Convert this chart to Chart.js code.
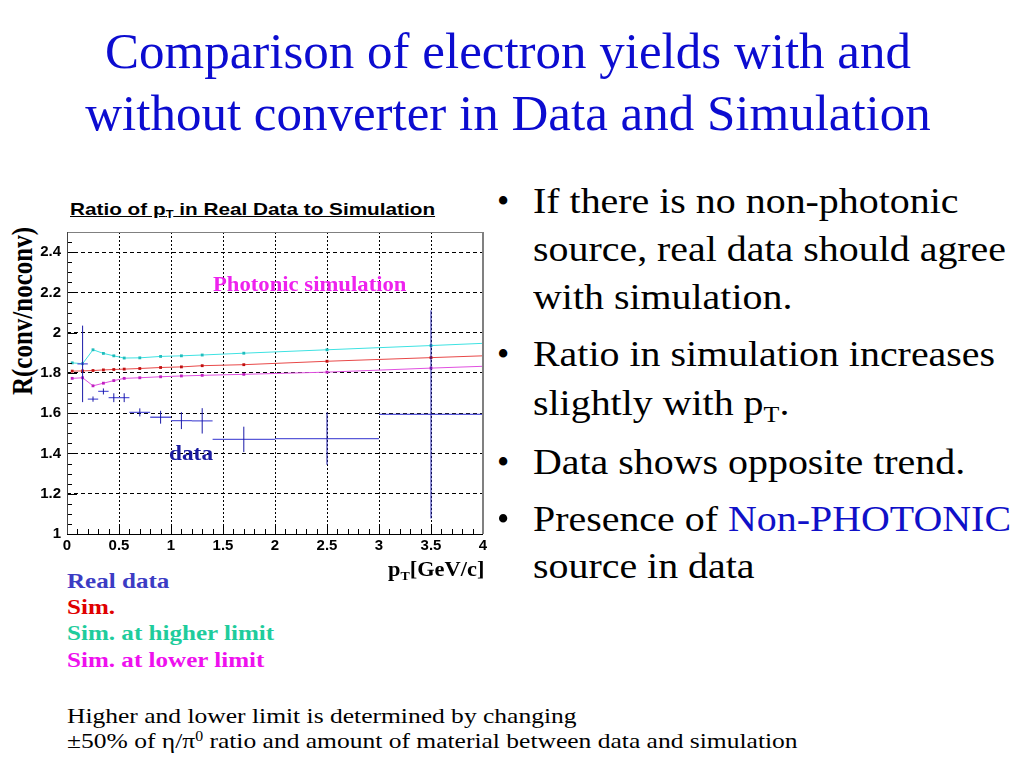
<!DOCTYPE html>
<html>
<head>
<meta charset="utf-8">
<script src="https://cdn.jsdelivr.net/npm/chart.js@4.4.0/dist/chart.umd.min.js"></script>
<style>
html,body{margin:0;padding:0;background:#fff;}
body{width:1024px;height:768px;position:relative;overflow:hidden;font-family:'Liberation Serif','Times New Roman',serif;}
.t{position:absolute;white-space:nowrap;transform-origin:0 0;}
#title{position:absolute;left:0;top:20px;width:1016px;text-align:center;font-size:51px;line-height:62px;color:#0c0cd0;}
#wrap{position:absolute;left:0;top:217px;width:493px;height:343px;}
.ctitle{font-family:'Liberation Sans',Arial,sans-serif;font-weight:bold;font-size:17px;line-height:20px;text-decoration:underline;color:#000;transform:scaleX(1.22);}
.ctitle sub,.xt sub{font-size:0.62em;vertical-align:-0.3em;line-height:0;}
.xt{font-weight:bold;font-size:20px;line-height:24px;color:#000;transform:scaleX(1.12);}
.yt{position:absolute;left:23px;top:311px;white-space:nowrap;font-weight:bold;font-size:25px;line-height:28px;transform:translate(-50%,-50%) rotate(-90deg) scaleY(1.15);}
.ann{font-weight:bold;font-size:21px;line-height:24px;}
.b{font-size:35px;line-height:48px;height:48px;color:#000;transform:scaleX(1.14);}
.bul{font-size:35px;line-height:48px;height:48px;color:#000;}
.lg{font-weight:bold;font-size:22px;line-height:26px;transform:scaleX(1.14);}
.ft{font-size:22px;line-height:25px;color:#000;transform:scaleX(1.16);}
.ft sup{font-size:0.62em;vertical-align:0.55em;line-height:0;}
</style>
</head>
<body>
<div id="title">Comparison of electron yields with and<br>without converter in Data and Simulation</div>

<div class="t ctitle" style="left:70px;top:200px;">Ratio of p<sub>T</sub> in Real Data to Simulation</div>
<div class="yt">R(conv/noconv)</div>

<div id="wrap"><canvas id="c"></canvas></div>

<div class="t ann" style="left:213px;top:272px;color:#ee22ee;transform:scaleX(1.08);">Photonic simulation</div>
<div class="t ann" style="left:169px;top:441px;color:#1a1aa0;transform:scaleX(1.11);">data</div>
<div class="t xt" style="left:388px;top:557px;">p<sub>T</sub>[GeV/c]</div>

<div class="t bul" style="left:497px;top:178px;">•</div>
<div class="t b" style="left:533px;top:178px;">If there is no non-photonic</div>
<div class="t b" style="left:533px;top:226px;">source, real data should agree</div>
<div class="t b" style="left:533px;top:274px;">with simulation.</div>
<div class="t bul" style="left:497px;top:331px;">•</div>
<div class="t b" style="left:533px;top:331px;">Ratio in simulation increases</div>
<div class="t b" style="left:533px;top:380px;">slightly with p<sub style="font-size:0.65em;vertical-align:-0.3em;line-height:0;">T</sub>.</div>
<div class="t bul" style="left:497px;top:439px;">•</div>
<div class="t b" style="left:533px;top:439px;">Data shows opposite trend.</div>
<div class="t bul" style="left:497px;top:496px;">•</div>
<div class="t b" style="left:533px;top:496px;">Presence of <span style="color:#1010c8;">Non-PHOTONIC</span></div>
<div class="t b" style="left:533px;top:543px;">source in data</div>

<div class="t lg" style="left:67px;top:568px;color:#3c3cc4;">Real data</div>
<div class="t lg" style="left:67px;top:594px;color:#e00000;">Sim.</div>
<div class="t lg" style="left:67px;top:620px;color:#1fcc9c;">Sim. at higher limit</div>
<div class="t lg" style="left:67px;top:647px;color:#ee10ee;">Sim. at lower limit</div>

<div class="t ft" style="left:67px;top:703px;">Higher and lower limit is determined by changing</div>
<div class="t ft" style="left:67px;top:728px;">±50% of η/π<sup>0</sup> ratio and amount of material between data and simulation</div>

<script>
// ---- data ----
const simX    = [0.05, 0.15, 0.25, 0.35, 0.45, 0.55, 0.7, 0.9, 1.1, 1.3, 1.7, 2.5, 3.5, 4.0];
const simHigh = [1.850, 1.846, 1.915, 1.897, 1.885, 1.874, 1.875, 1.882, 1.885, 1.889, 1.898, 1.915, 1.936, 1.947];
const simMid  = [1.809, 1.810, 1.812, 1.815, 1.817, 1.819, 1.822, 1.827, 1.830, 1.836, 1.841, 1.858, 1.876, 1.885];
const simLow  = [1.773, 1.776, 1.736, 1.749, 1.762, 1.773, 1.776, 1.781, 1.785, 1.788, 1.793, 1.804, 1.824, 1.833];

const dataX    = [0.15, 0.25, 0.35, 0.45, 0.55, 0.7, 0.9, 1.1, 1.3, 1.7, 2.5, 3.5];
const dataY    = [1.845, 1.670, 1.708, 1.677, 1.677, 1.604, 1.580, 1.563, 1.562, 1.470, 1.474, 1.594];
const dataXErr = [0.05, 0.05, 0.05, 0.05, 0.05, 0.1, 0.1, 0.1, 0.1, 0.3, 0.5, 0.5];
const dataYErr = [0.190, 0.013, 0.015, 0.022, 0.022, 0.020, 0.032, 0.042, 0.063, 0.063, 0.130, 0.517];

const xTicks      = [0, 0.5, 1, 1.5, 2, 2.5, 3, 3.5, 4];
const xTickLabels = ['0', '0.5', '1', '1.5', '2', '2.5', '3', '3.5', '4'];
const yTicks      = [1, 1.2, 1.4, 1.6, 1.8, 2, 2.2, 2.4];
const yTickLabels = ['1', '1.2', '1.4', '1.6', '1.8', '2', '2.2', '2.4'];

// ---- build datasets ----
const hBars = [], vBars = [];
dataX.forEach((x, i) => {
  hBars.push({x: x - dataXErr[i], y: dataY[i]}, {x: x + dataXErr[i], y: dataY[i]}, {x: x, y: null});
  vBars.push({x: x, y: dataY[i] - dataYErr[i]}, {x: x, y: dataY[i] + dataYErr[i]}, {x: x, y: null});
});
const toPts = ys => simX.map((x, i) => ({x: x, y: ys[i]}));
const markR = simX.map(x => (x < 4 ? 2 : 0));

function simSet(ys, line, mark) {
  return {data: toPts(ys), showLine: true, borderColor: line, borderWidth: 1,
    pointStyle: 'rect', pointRadius: markR, pointBackgroundColor: mark, pointBorderWidth: 0, spanGaps: false};
}

const framePlugin = {
  id: 'frame',
  afterDatasetsDraw(chart) {
    const {ctx, chartArea: a, scales: {x, y}} = chart;
    ctx.save();
    ctx.setLineDash([]);
    ctx.strokeStyle = '#000';
    ctx.lineWidth = 1;
    ctx.beginPath();
    for (let k = 0; k <= 40; k++) {
      const px = Math.round(x.getPixelForValue(k / 10)) + 0.5;
      const len = (k % 5 === 0) ? 10 : 5;
      ctx.moveTo(px, a.bottom); ctx.lineTo(px, a.bottom - len);
    }
    for (let k = 0; k <= 30; k++) {
      const py = Math.round(y.getPixelForValue(1 + k * 0.05)) + 0.5;
      const len = (k % 4 === 0) ? 10 : 5;
      ctx.moveTo(a.left, py); ctx.lineTo(a.left + len, py);
    }
    ctx.stroke();
    // frame
    ctx.strokeStyle = '#808080';
    ctx.beginPath(); ctx.moveTo(a.left, a.top + 0.5); ctx.lineTo(a.right, a.top + 0.5); ctx.stroke();
    ctx.lineWidth = 2;
    ctx.beginPath(); ctx.moveTo(a.right, a.top); ctx.lineTo(a.right, a.bottom); ctx.stroke();
    ctx.lineWidth = 1;
    ctx.strokeStyle = '#444';
    ctx.beginPath(); ctx.moveTo(a.left + 0.5, a.top); ctx.lineTo(a.left + 0.5, a.bottom); ctx.stroke();
    ctx.strokeStyle = '#000';
    ctx.beginPath(); ctx.moveTo(a.left, a.bottom + 0.5); ctx.lineTo(a.right, a.bottom + 0.5); ctx.stroke();
    ctx.restore();
  }
};

const tickFont = {family: "'Liberation Sans', Arial, sans-serif", weight: 'bold', size: 15};

new Chart(document.getElementById('c'), {
  type: 'scatter',
  data: {
    datasets: [
      {data: vBars, showLine: true, borderColor: '#1a1aa8', borderWidth: 1, pointRadius: 0, spanGaps: false},
      {data: hBars, showLine: true, borderColor: '#5a5ad8', borderWidth: 1.3, pointRadius: 0, spanGaps: false},
      simSet(simMid, '#e84848', '#c01010'),
      simSet(simLow, '#e050e0', '#c020c0'),
      simSet(simHigh, '#3ee2e2', '#20bcbc')
    ]
  },
  options: {
    responsive: true,
    maintainAspectRatio: false,
    animation: false,
    layout: {padding: {top: 10, right: 10, bottom: 2, left: 0}},
    plugins: {legend: {display: false}, title: {display: false}, tooltip: {enabled: false}},
    scales: {
      x: {
        type: 'linear', min: 0, max: 4,
        afterBuildTicks: s => { s.ticks = xTicks.map(v => ({value: v})); },
        afterFit: s => { s.height = 24; },
        ticks: {callback: (v, i) => xTickLabels[i], font: tickFont, color: '#000', padding: 3, maxRotation: 0, autoSkip: false},
        grid: {color: c => (c.index === 0 || c.index === xTicks.length - 1) ? 'rgba(0,0,0,0)' : '#000', lineWidth: 1, drawTicks: false},
        border: {display: false, dash: [2, 2]}
      },
      y: {
        type: 'linear', min: 1, max: 2.5,
        afterBuildTicks: s => { s.ticks = yTicks.map(v => ({value: v})); },
        afterFit: s => { s.width = 67; },
        ticks: {callback: (v, i) => yTickLabels[i], font: tickFont, color: '#000', padding: 6, autoSkip: false},
        grid: {color: c => (c.index === 0) ? 'rgba(0,0,0,0)' : '#000', lineWidth: 1, drawTicks: false},
        border: {display: false, dash: [4, 3]}
      }
    }
  },
  plugins: [framePlugin]
});
</script>
</body>
</html>
